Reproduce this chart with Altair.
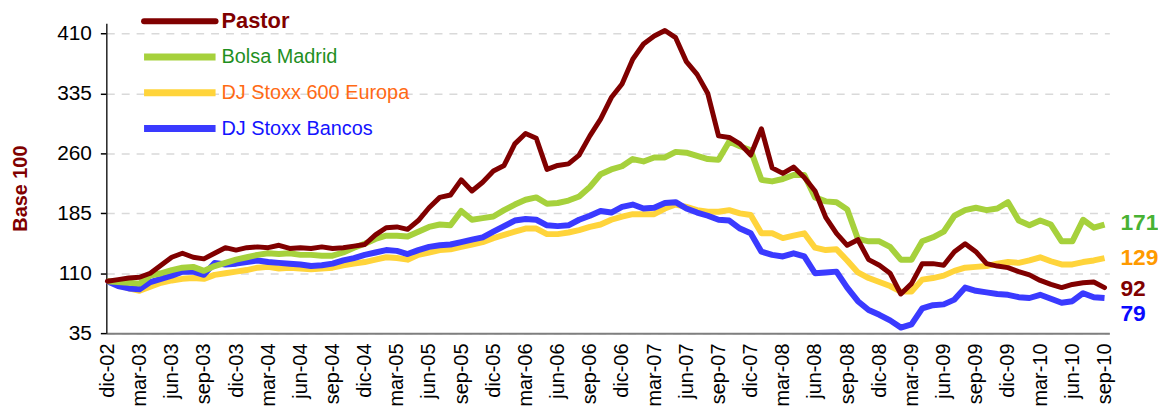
import altair as alt
import pandas as pd

tick_labels = ["dic-02", "mar-03", "jun-03", "sep-03", "dic-03", "mar-04", "jun-04", "sep-04",
               "dic-04", "mar-05", "jun-05", "sep-05", "dic-05", "mar-06", "jun-06", "sep-06",
               "dic-06", "mar-07", "jun-07", "sep-07", "dic-07", "mar-08", "jun-08", "sep-08",
               "dic-08", "mar-09", "jun-09", "sep-09", "dic-09", "mar-10", "jun-10", "sep-10"]

pastor = [100, 102, 104, 105, 110, 120, 130, 135, 130, 128,
          135, 142, 139, 142, 143, 142, 145, 141, 142, 141,
          143, 141, 142, 144, 146, 158, 167, 168, 165, 176,
          192, 205, 208, 227, 213, 224, 238, 245, 272, 285,
          279, 240, 245, 247, 258, 282, 303, 330, 347, 378,
          397, 407, 414, 405, 375, 359, 335, 282, 280, 272,
          258, 291, 242, 235, 243, 230, 213, 180, 160, 145,
          152, 127, 120, 110, 84, 97, 122, 122, 120, 137,
          147, 137, 122, 119, 117, 112, 108, 101, 96, 92,
          96, 98, 99, 92]

bolsa_madrid = [100, 99, 98, 97, 107, 110, 114, 117, 118, 113,
                119, 123, 127, 130, 133, 135, 134, 135, 133, 133,
                132, 132, 136, 142, 147, 153, 157, 157, 156, 162,
                168, 171, 170, 188, 177, 179, 181, 189, 196, 202,
                205, 197, 198, 201, 206, 218, 234, 240, 244, 253,
                250, 255, 255, 262, 261, 257, 253, 252, 275, 269,
                264, 227, 225, 228, 233, 233, 205, 200, 199, 190,
                153, 150, 150, 143, 127, 127, 150, 155, 162, 182,
                189, 192, 189, 191, 199, 176, 170, 176, 171, 150,
                150, 177, 167, 171]

stoxx600 = [100, 96, 91, 88, 93, 98, 101, 103, 104, 103,
            108, 110, 112, 114, 117, 118, 116, 117, 116, 115,
            116, 117, 120, 122, 124, 127, 130, 129, 127, 133,
            136, 139, 140, 143, 146, 149, 154, 158, 162, 166,
            166, 159, 159, 161, 164, 168, 171, 177, 181, 184,
            184, 184, 191, 196, 193, 189, 187, 187, 189, 185,
            183, 160, 160, 154, 157, 160, 142, 139, 140, 126,
            111, 104, 99, 94, 87, 87, 102, 104, 107, 113,
            117, 118, 119, 122, 124, 123, 126, 130, 125, 121,
            121, 124, 126, 129]

bancos = [100, 94, 91, 90, 99, 103, 107, 112, 112, 108,
          123, 121, 122, 124, 126, 124, 123, 122, 121, 119,
          120, 122, 126, 129, 133, 136, 139, 138, 134, 139,
          143, 145, 146, 149, 152, 155, 162, 169, 176, 178,
          177, 170, 169, 170, 177, 182, 188, 186, 193, 196,
          191, 192, 198, 199, 191, 186, 182, 177, 176, 166,
          160, 137, 133, 131, 135, 131, 110, 111, 112, 92,
          75, 64, 58, 51, 42, 46, 66, 70, 71, 77,
          92, 88, 86, 84, 83, 80, 79, 83, 78, 73,
          75, 85, 80, 79]

legend_names = ["Pastor", "Bolsa Madrid", "DJ Stoxx 600 Europa", "DJ Stoxx Bancos"]
legend_rows = [0, 1, 2, 3]

FONT = "Liberation Sans"
C_PASTOR = "#800000"
C_BOLSA = "#a6d13c"
C_STOXX = "#ffd43b"
C_BANCOS = "#3a3aff"

label_expr = "[" + ",".join(f"'{t}'" for t in tick_labels) + "][round(datum.value/3)]"

x_scale = alt.Scale(domain=[-0.1, 93.45], nice=False, zero=False)
y_scale = alt.Scale(domain=[35, 423], nice=False, zero=False)

x_axis = alt.Axis(values=list(range(0, 94, 3)), labelExpr=label_expr, labelAngle=270,
                  labelFontSize=20, labelColor="#000000", labelFont=FONT, ticks=False,
                  grid=False, domainColor="#7f7f7f", domainWidth=2, labelPadding=10,
                  labelOverlap=False, labelFlush=False, title=None)
y_axis = alt.Axis(values=[35, 110, 185, 260, 335, 410], labelFontSize=21, labelColor="#000000",
                  labelFont=FONT, tickSize=6, tickColor="#000000", tickWidth=1.5,
                  domainColor="#222222", domainWidth=1.5, labelPadding=9, labelFlush=False,
                  grid=True, gridDash=[8, 7], gridColor="#d9d9d9", gridWidth=1.5,
                  title="Base 100", titleFontSize=20, titleFontWeight="bold",
                  titleColor=C_PASTOR, titleFont=FONT, titleAngle=270, titleX=-86,
                  titleY=166, titleAlign="center", titleBaseline="middle")

X = alt.X("m:Q", scale=x_scale, axis=x_axis)
Y = alt.Y("v:Q", scale=y_scale, axis=y_axis)


def series_df(vals):
    return pd.DataFrame({"m": list(range(len(vals))), "v": vals})


def line_layer(vals, color, width, cap="butt"):
    return alt.Chart(series_df(vals)).mark_line(
        color=color, strokeWidth=width, strokeJoin="round", strokeCap=cap
    ).encode(x=X, y=Y)


lines = [
    line_layer(stoxx600, C_STOXX, 6),
    line_layer(bancos, C_BANCOS, 6),
    line_layer(bolsa_madrid, C_BOLSA, 6),
    line_layer(pastor, C_PASTOR, 5, "round"),
]


def end_label(vals, color, dy):
    df = pd.DataFrame({"m": [len(vals) - 1], "v": [vals[-1]], "t": [str(vals[-1])]})
    return alt.Chart(df).mark_text(
        align="left", baseline="middle", dx=16, dy=dy, fontSize=23,
        fontWeight="bold", color=color, font=FONT
    ).encode(x=X, y=Y, text="t:N")


end_labels = [
    end_label(bolsa_madrid, "#48b233", -1.5),
    end_label(stoxx600, "#ff9a00", 0),
    end_label(pastor, C_PASTOR, 1.5),
    end_label(bancos, "#0a0aff", 16.5),
]

leg_df = pd.DataFrame({
    "name": legend_names,
    "row": legend_rows,
    "line_color": [C_PASTOR, C_BOLSA, C_STOXX, C_BANCOS],
    "text_color": [C_PASTOR, "#1f8f1f", "#ff6a14", "#1414ff"],
})
leg_base = alt.Chart(leg_df).transform_calculate(py="-2 + datum.row * 36")
leg_y = alt.Y("py:Q", scale=None)

leg_line_pastor = leg_base.transform_filter("datum.row == 0").mark_rule(
    strokeWidth=6, strokeCap="round"
).encode(x=alt.value(38), x2=alt.value(110), y=leg_y,
         color=alt.Color("line_color:N", scale=None))
leg_line_other = leg_base.transform_filter("datum.row > 0").mark_rule(
    strokeWidth=7, strokeCap="butt"
).encode(x=alt.value(38), x2=alt.value(110), y=leg_y,
         color=alt.Color("line_color:N", scale=None))
leg_text_pastor = leg_base.transform_filter("datum.row == 0").mark_text(
    align="left", baseline="middle", fontSize=22, fontWeight="bold", font=FONT
).encode(x=alt.value(116), y=leg_y, text="name:N",
         color=alt.Color("text_color:N", scale=None))
leg_text_other = leg_base.transform_filter("datum.row > 0").mark_text(
    align="left", baseline="middle", fontSize=20, font=FONT
).encode(x=alt.value(116), y=leg_y, text="name:N",
         color=alt.Color("text_color:N", scale=None))

chart = alt.layer(
    *lines, *end_labels, leg_line_pastor, leg_line_other, leg_text_pastor, leg_text_other
).properties(
    width=1010, height=312,
    autosize=alt.AutoSizeParams(type="none"),
    padding={"left": 99, "top": 14, "right": 49, "bottom": 76},
).configure(font=FONT).configure_view(stroke=None)

chart.save("out.html", embed_options={"renderer": "svg", "actions": False})
